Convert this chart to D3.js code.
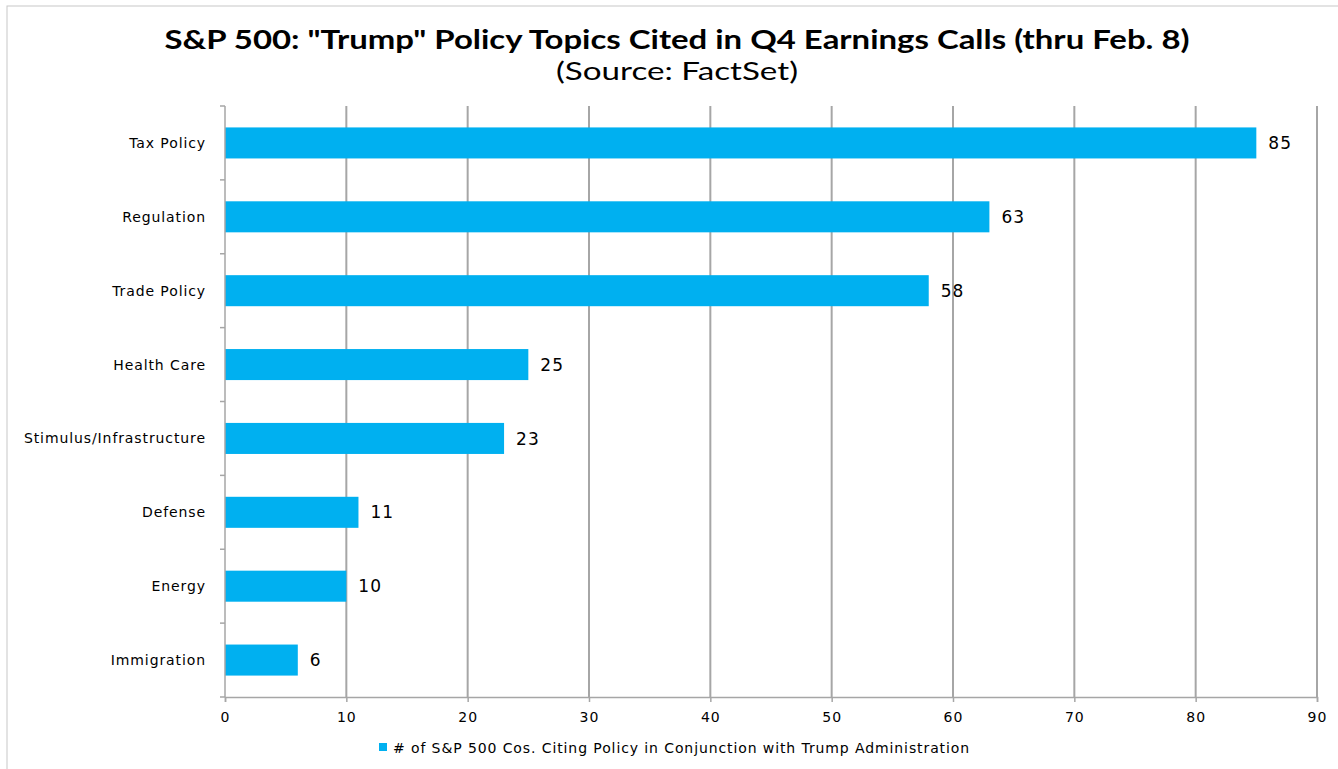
<!DOCTYPE html>
<html lang="en">
  <head>
    <meta charset="UTF-8" />
    <title>S&amp;P 500 Trump Policy Topics</title>
    <script src="https://d3js.org/d3.v7.min.js"></script>
    <style>
      body { margin: 0; background: #fff; }
      svg { display: block; }
    </style>
  </head>
  <body>
    <div id="chart"></div>
    <script>
      // Data
      const categories = ["Tax Policy", "Regulation", "Trade Policy", "Health Care",
        "Stimulus/Infrastructure", "Defense", "Energy", "Immigration"];
      const values = [85, 63, 58, 25, 23, 11, 10, 6];
      const xTicks = [0, 10, 20, 30, 40, 50, 60, 70, 80, 90];
      const seriesName = "# of S&P 500 Cos. Citing Policy in Conjunction with Trump Administration";

      const width = 1338;
      const height = 769;
      const margin = { top: 106, right: 21, bottom: 72, left: 225 };
      const barColor = "#00B0F0";
      const gridColor = "#A6A6A6";
      const labelFont = "'DejaVu Sans', Verdana, sans-serif";

      const svg = d3.select("#chart").append("svg")
        .attr("width", width)
        .attr("height", height);

      // outer chart border (only top/left visible in the picture)
      svg.append("rect")
        .attr("x", 7).attr("y", 6)
        .attr("width", 1360).attr("height", 800)
        .attr("fill", "none")
        .attr("stroke", "#C8C8C8")
        .attr("stroke-width", 1);

      // Title
      svg.append("text")
        .attr("x", 677).attr("y", 49)
        .attr("text-anchor", "middle")
        .attr("font-family", "Lato, 'Open Sans', sans-serif")
        .attr("font-weight", "bold")
        .attr("font-size", 27)
        .attr("textLength", 1025)
        .attr("lengthAdjust", "spacingAndGlyphs")
        .attr("fill", "#000")
        .text('S&P 500: "Trump" Policy Topics Cited in Q4 Earnings Calls (thru Feb. 8)');
      svg.append("text")
        .attr("x", 677).attr("y", 80)
        .attr("text-anchor", "middle")
        .attr("font-family", "Lato, 'Open Sans', sans-serif")
        .attr("font-size", 25)
        .attr("textLength", 242)
        .attr("lengthAdjust", "spacingAndGlyphs")
        .attr("fill", "#000")
        .text("(Source: FactSet)");

      const x = d3.scaleLinear()
        .domain([0, 90])
        .range([margin.left, width - margin.right]);

      const y = d3.scaleBand()
        .domain(categories)
        .range([margin.top, height - margin.bottom])
        .paddingInner(0.58)
        .paddingOuter(0.29);

      const plotBottom = height - margin.bottom;

      // vertical gridlines
      svg.append("g")
        .selectAll("line")
        .data(xTicks.slice(1))
        .join("line")
        .attr("x1", d => x(d)).attr("x2", d => x(d))
        .attr("y1", margin.top).attr("y2", plotBottom)
        .attr("stroke", gridColor)
        .attr("stroke-width", 2);

      // bars
      svg.append("g")
        .selectAll("rect")
        .data(values)
        .join("rect")
        .attr("x", x(0))
        .attr("y", (d, i) => y(categories[i]))
        .attr("width", d => x(d) - x(0))
        .attr("height", y.bandwidth())
        .attr("fill", barColor);

      // value labels
      svg.append("g")
        .selectAll("text")
        .data(values)
        .join("text")
        .attr("x", d => x(d) + 12)
        .attr("y", (d, i) => y(categories[i]) + y.bandwidth() / 2)
        .attr("dy", "0.36em")
        .attr("font-family", labelFont)
        .attr("font-size", 17)
        .attr("letter-spacing", 1)
        .attr("fill", "#000")
        .text(d => d);

      // left axis: ticks at band boundaries
      const yAxis = svg.append("g");
      yAxis.append("line")
        .attr("x1", x(0)).attr("x2", x(0))
        .attr("y1", margin.top).attr("y2", plotBottom)
        .attr("stroke", gridColor).attr("stroke-width", 1.5);
      const step = y.step();
      yAxis.selectAll(".tk")
        .data(d3.range(categories.length + 1))
        .join("line")
        .attr("class", "tk")
        .attr("x1", x(0) - 5).attr("x2", x(0))
        .attr("y1", i => margin.top + i * step)
        .attr("y2", i => margin.top + i * step)
        .attr("stroke", gridColor).attr("stroke-width", 1.5);
      yAxis.selectAll("text")
        .data(categories)
        .join("text")
        .attr("x", x(0) - 19)
        .attr("y", d => y(d) + y.bandwidth() / 2)
        .attr("dy", "0.36em")
        .attr("text-anchor", "end")
        .attr("font-family", labelFont)
        .attr("font-size", 14)
        .attr("letter-spacing", 0.9)
        .attr("fill", "#000")
        .text(d => d);

      // bottom axis
      const xAxis = d3.axisBottom(x)
        .tickValues(xTicks)
        .tickSize(5)
        .tickPadding(10);
      const gx = svg.append("g")
        .attr("transform", `translate(0,${plotBottom})`)
        .call(xAxis);
      gx.select(".domain").attr("stroke", gridColor).attr("stroke-width", 1.5);
      gx.selectAll(".tick line").attr("stroke", gridColor).attr("stroke-width", 1.5);
      gx.selectAll(".tick text")
        .attr("font-family", labelFont)
        .attr("font-size", 14)
        .attr("letter-spacing", 1)
        .attr("fill", "#000");

      // legend
      const legend = svg.append("g").attr("transform", "translate(379,743)");
      legend.append("rect")
        .attr("width", 8).attr("height", 8)
        .attr("fill", barColor);
      legend.append("text")
        .attr("x", 14).attr("y", 10)
        .attr("font-family", labelFont)
        .attr("font-size", 14)
        .attr("letter-spacing", 0.9)
        .attr("fill", "#000")
        .text(seriesName);
    </script>
  </body>
</html>
